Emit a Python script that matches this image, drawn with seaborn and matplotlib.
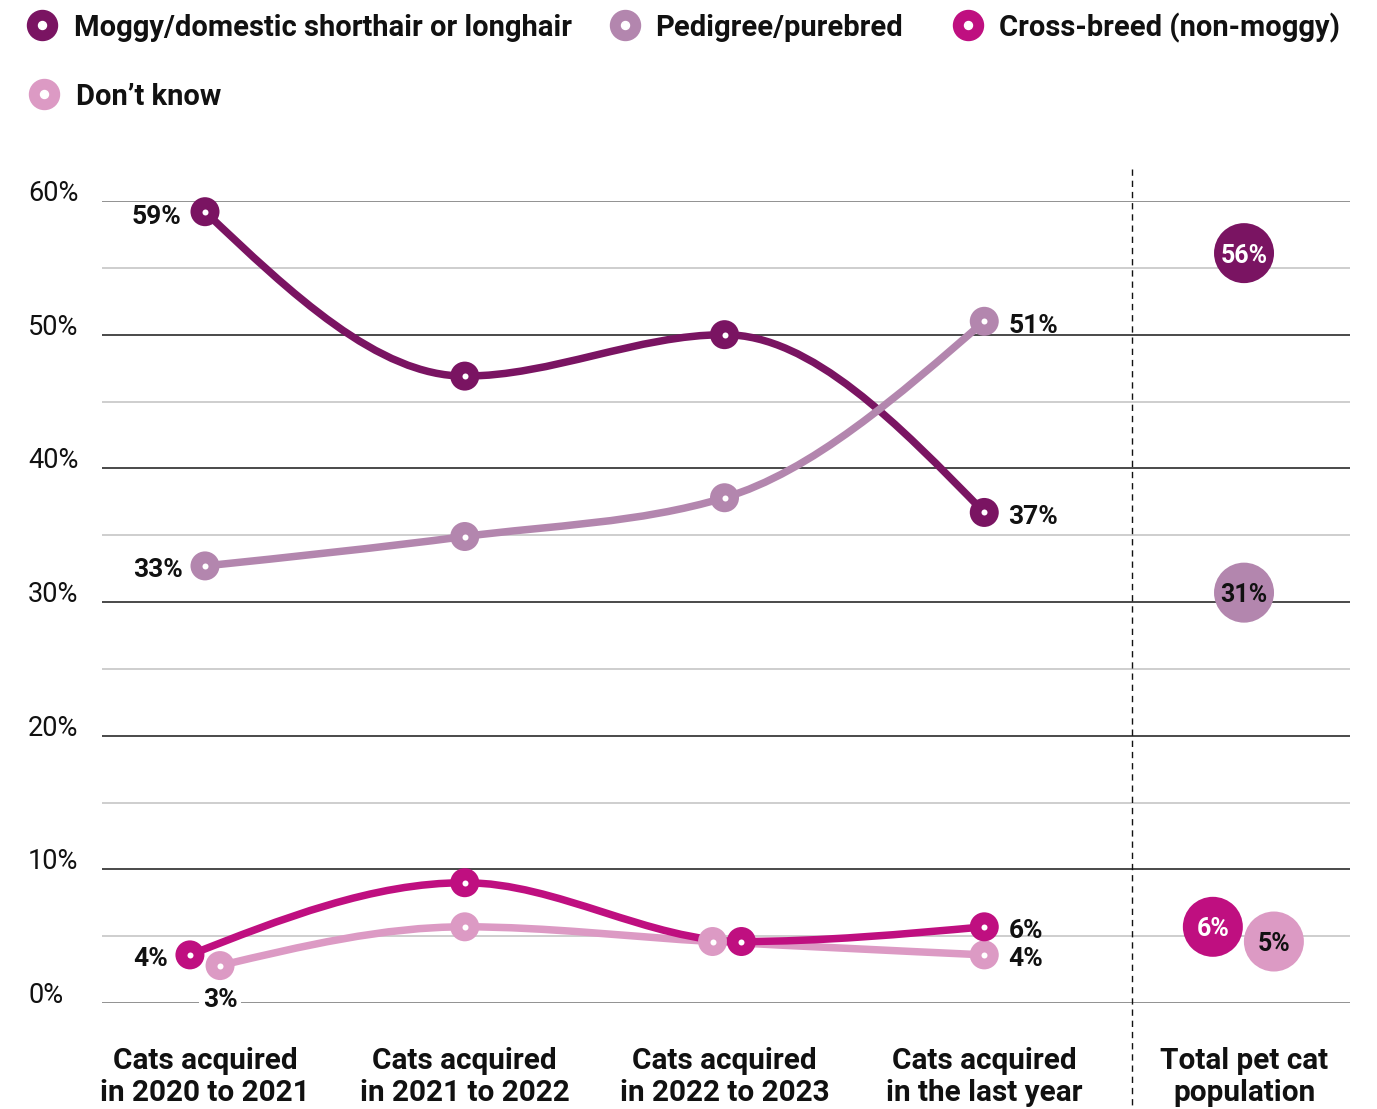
import numpy as np
import pandas as pd
import matplotlib
matplotlib.use("Agg")
import matplotlib.pyplot as plt
from matplotlib.path import Path
from matplotlib.patches import PathPatch
from matplotlib.lines import Line2D
import seaborn as sns

# ---- data -------------------------------------------------------------
periods = [
    "Cats acquired\nin 2020 to 2021",
    "Cats acquired\nin 2021 to 2022",
    "Cats acquired\nin 2022 to 2023",
    "Cats acquired\nin the last year",
    "Total pet cat\npopulation",
]
series = [
    "Moggy/domestic shorthair or longhair",
    "Pedigree/purebred",
    "Cross-breed (non-moggy)",
    "Don’t know",
]
moggy = [59.2, 46.9, 50.0, 36.7]
pedigree = [32.7, 34.9, 37.8, 51.0]
crossbreed = [3.6, 9.0, 4.6, 5.7]
dont_know = [2.8, 5.7, 4.6, 3.6]
total_population = [56.1, 30.7, 5.7, 4.6]
y_ticks = [0, 10, 20, 30, 40, 50, 60]

colors = ["#7a1462", "#b386ae", "#bf0f80", "#dc9ac4"]
bubble_text = ["white", "#111111", "white", "#111111"]

# small horizontal nudges so overlapping markers stay readable
dodge = [
    [0, 0, 0, 0],
    [0, 0, 0, 0],
    [-0.058, 0, 0.065, 0],
    [0.058, 0, -0.046, 0],
]
total_dodge = [0, 0, -0.12, 0.115]

values = [moggy, pedigree, crossbreed, dont_know]
rows = []
for k, name in enumerate(series):
    for i, v in enumerate(values[k]):
        rows.append({"series": name, "x": i + dodge[k][i], "value": v})
df = pd.DataFrame(rows)
totals = pd.DataFrame({
    "series": series,
    "x": [4 + d for d in total_dodge],
    "value": total_population,
})

# ---- style ------------------------------------------------------------
sns.set_theme(style="white")
plt.rcParams["font.family"] = ["Roboto", "DejaVu Sans"]
W, H = 1377, 1109
fig = plt.figure(figsize=(W / 100, H / 100), dpi=100)
ax = fig.add_axes([102 / W, (H - 1003) / H, 1248 / W, 802 / H])
ax.set_xlim(-0.3965, 4.408)
ax.set_ylim(0, 60)
for s in ax.spines.values():
    s.set_visible(False)

PX = 0.72  # points per pixel at 100 dpi

# horizontal grid: dark on the tens, light on the fives, grey on the edges
for g in range(0, 61, 5):
    if g in (0, 60):
        c = "#7a7a7a"
    elif g % 10 == 0:
        c = "#222222"
    else:
        c = "#c4c4c4"
    ax.axhline(g, color=c, lw=1.6 * PX, zorder=1)

# dashed separator before the population column
ax.plot([3.57, 3.57], [62.4, -8.0], color="#111111", lw=1.4 * PX,
        dashes=(4.5, 3.5), clip_on=False, zorder=1)


def monotone_path(xs, ys):
    """Cubic Bezier path through the points with monotone-x tangents."""
    xs = np.asarray(xs, float)
    ys = np.asarray(ys, float)
    n = len(xs)
    h = np.diff(xs)
    s = np.diff(ys) / h
    t = np.zeros(n)
    for i in range(1, n - 1):
        p = (s[i - 1] * h[i] + s[i] * h[i - 1]) / (h[i - 1] + h[i])
        t[i] = (np.sign(s[i - 1]) + np.sign(s[i])) * min(
            abs(s[i - 1]), abs(s[i]), 0.5 * abs(p))
    t[0] = (3 * s[0] - t[1]) / 2
    t[-1] = (3 * s[-1] - t[-2]) / 2
    verts = [(xs[0], ys[0])]
    codes = [Path.MOVETO]
    for i in range(n - 1):
        dx = h[i] / 3
        verts += [(xs[i] + dx, ys[i] + dx * t[i]),
                  (xs[i + 1] - dx, ys[i + 1] - dx * t[i + 1]),
                  (xs[i + 1], ys[i + 1])]
        codes += [Path.CURVE4] * 3
    return Path(verts, codes)


line_order = [0, 1, 3, 2]
for z, k in enumerate(line_order):
    d = df[df.series == series[k]]
    patch = PathPatch(monotone_path(d.x, d.value), fill=False,
                      edgecolor=colors[k], lw=7.5 * PX, capstyle="round",
                      joinstyle="round", zorder=3 + z * 0.1)
    ax.add_patch(patch)

pal = dict(zip(series, colors))
for z, k in enumerate(line_order):
    d = df[df.series == series[k]]
    sns.scatterplot(data=d, x="x", y="value", hue="series", palette=pal,
                    s=(29 * PX) ** 2, linewidth=0, legend=False, ax=ax,
                    zorder=5 + z * 0.1, clip_on=False)
    ax.scatter(d.x, d.value, s=(6 * PX) ** 2, color="white", linewidth=0,
               zorder=5.05 + z * 0.1, clip_on=False)

# population bubbles
sns.scatterplot(data=totals, x="x", y="value", hue="series", palette=pal,
                s=(60 * PX) ** 2, linewidth=0, legend=False, ax=ax,
                zorder=6, clip_on=False)
for k in range(4):
    ax.text(totals.x[k], totals.value[k], f"{totals.value[k]:.0f}%",
            ha="center", va="center_baseline", fontsize=18, fontweight="bold",
            color=bubble_text[k], zorder=7)

# value labels at both ends of each series
label_font = dict(fontsize=19, fontweight="bold", color="#111111", zorder=8)
first_offset = [(-24, -3), (-22, -2), (-22, -2), None]
for k in range(4):
    d = df[df.series == series[k]].reset_index(drop=True)
    v0 = d.value[0]
    if first_offset[k] is not None:
        ax.annotate(f"{v0:.0f}%", (d.x[0], v0), xytext=first_offset[k],
                    textcoords="offset pixels", ha="right",
                    va="center_baseline", **label_font)
    else:
        ax.annotate(f"{v0:.0f}%", (d.x[0], v0), xytext=(0, -32),
                    textcoords="offset pixels", ha="center",
                    va="center_baseline",
                    bbox=dict(boxstyle="square,pad=0.15", fc="white",
                              ec="none"), **label_font)
    v1 = d.value[3]
    ax.annotate(f"{v1:.0f}%", (d.x[3], v1), xytext=(24, -2),
                textcoords="offset pixels", ha="left",
                va="center_baseline", **label_font)

# axes ticks
ax.set_yticks(y_ticks)
ax.set_yticklabels([f"{t}%" for t in y_ticks], fontsize=19.5,
                   fontweight="normal", color="#111111")
for lab in ax.get_yticklabels():
    lab.set_horizontalalignment("left")
    lab.set_verticalalignment("baseline")
ax.tick_params(axis="y", length=0, pad=74 * PX)
ax.set_xticks(range(len(periods)))
ax.set_xticklabels(periods, fontsize=21.4, fontweight="bold",
                   color="#111111", linespacing=1.2)
ax.tick_params(axis="x", length=0, pad=44 * PX)
ax.set_xlabel("")
ax.set_ylabel("")

# legend across the top
legend_pos = [(42, 25, 74), (625, 25, 655), (968, 25, 999), (44, 94, 76)]
for k, (mx, my, tx) in enumerate(legend_pos):
    fig.add_artist(Line2D([mx / W], [1 - my / H], marker="o",
                          markersize=30 * PX, color=colors[k], lw=0,
                          transform=fig.transFigure))
    fig.add_artist(Line2D([mx / W], [1 - my / H], marker="o",
                          markersize=8 * PX, color="white", lw=0,
                          transform=fig.transFigure))
    fig.text(tx / W, 1 - my / H, series[k], fontsize=21, fontweight="bold",
             color="#111111", ha="left", va="center_baseline")

fig.savefig("out.png", dpi=100)
